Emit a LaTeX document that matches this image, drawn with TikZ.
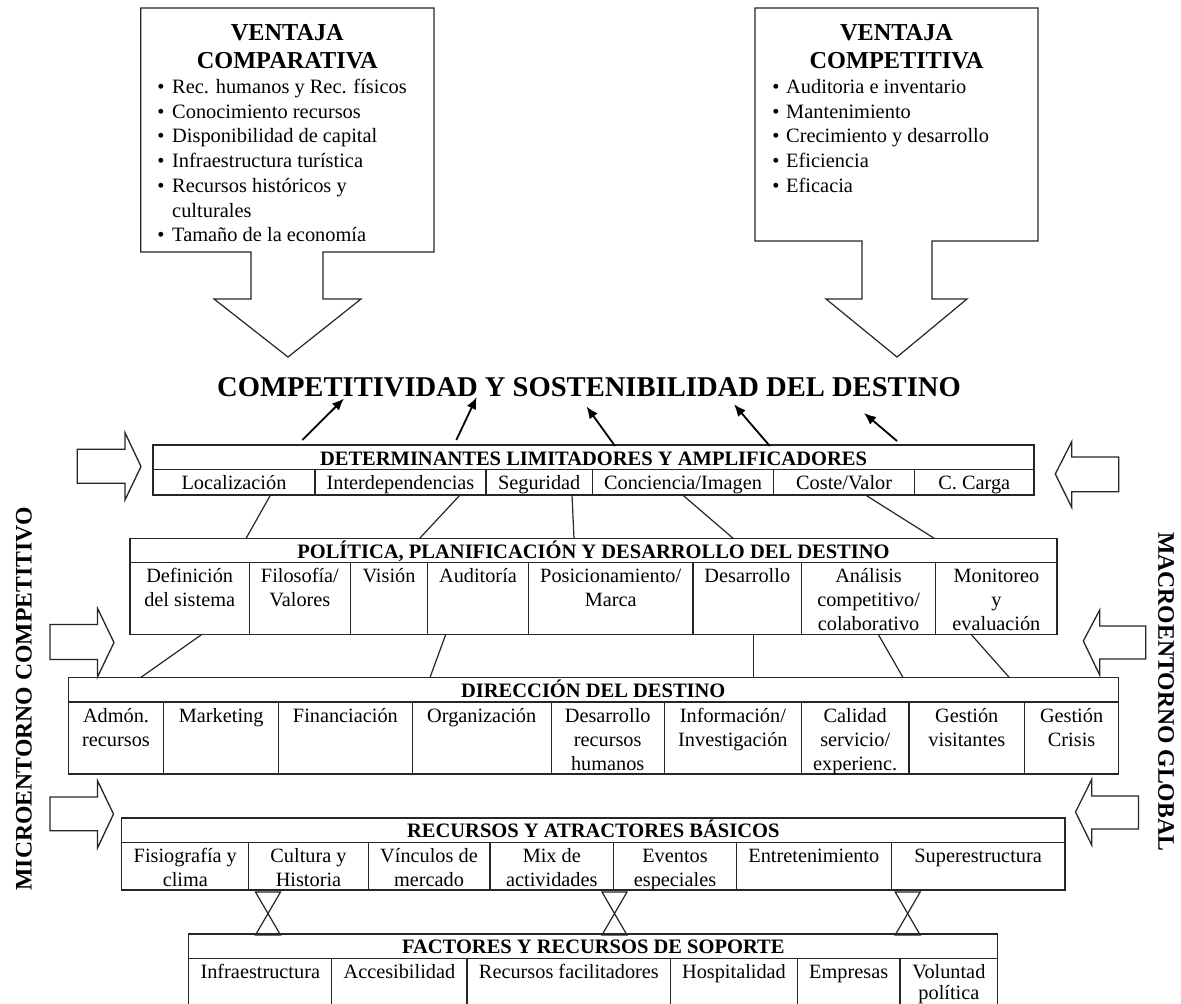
\documentclass[tikz,border=0pt]{standalone}
\usepackage{fontspec}
\setmainfont{Liberation Serif}
\usetikzlibrary{arrows.meta}
\tikzset{
  ln/.style={line width=1.2pt, draw=black!85},
  boxst/.style={draw=black!85, line width=1.2pt, inner sep=0pt, rectangle},
  hdr/.style={font=\bfseries\fontsize{20.5}{24}\selectfont, anchor=base, inner sep=0pt},
  celltx/.style={font=\fontsize{20.3}{24}\selectfont, anchor=north, align=center, inner sep=0pt},
  vtitle/.style={font=\bfseries\fontsize{24.3}{29}\selectfont, anchor=base, inner sep=0pt},
  bultx/.style={font=\fontsize{20.4}{24.75}\selectfont, anchor=base west, inner sep=0pt},
  bulmk/.style={font=\fontsize{20.4}{24.75}\selectfont, anchor=base, inner sep=0pt},
  maintitle/.style={font=\bfseries\fontsize{28.6}{34}\selectfont, anchor=base, inner sep=0pt},
  sidetx/.style={font=\bfseries\fontsize{23.7}{28}\selectfont, inner sep=0pt},
  upar/.style={line width=1.8pt, draw=black, -{Latex[length=12pt,width=10pt]}},
  blk/.style={draw=black!85, line width=1.3pt, fill=white, line join=miter},
}
\newcommand\mybox[5]{\node[boxst, minimum width={#4-#2}, minimum height={#5-#3}] (#1) at ({(#2+#4)/2},{(#3+#5)/2}) {};}
\newcommand\celltext[4]{\node[celltx] (#1) at (#2,{#3+3.2}) {\strut #4};}
\begin{document}
\begin{tikzpicture}[x=1pt,y=-1pt]
\useasboundingbox[fill=white] (0,0) rectangle (1181,1004);

% ---------- top boxes with block arrows ----------
\draw[ln, line join=miter] (140.7,8) -- (434,8) -- (434,252) -- (323,252) -- (323,299) -- (361,299) -- (288,357) -- (214,299) -- (251,299) -- (251,252) -- (140.7,252) -- cycle;
\node[vtitle] (vc1) at (287.3,40) {VENTAJA};
\node[vtitle] (vc2) at (287.3,68.3) {COMPARATIVA};
\node[bulmk] (bl1) at (161,93.3) {•};
\node[bultx] (tl1) at (172,93.3) {Rec. humanos y Rec. físicos};
\node[bulmk] (bl2) at (161,118.05) {•};
\node[bultx] (tl2) at (172,118.05) {Conocimiento recursos};
\node[bulmk] (bl3) at (161,142.8) {•};
\node[bultx] (tl3) at (172,142.8) {Disponibilidad de capital};
\node[bulmk] (bl4) at (161,167.55) {•};
\node[bultx] (tl4) at (172,167.55) {Infraestructura turística};
\node[bulmk] (bl5) at (161,192.3) {•};
\node[bultx] (tl5) at (172,192.3) {Recursos históricos y};
\node[bultx] (tl5b) at (172,217.05) {culturales};
\node[bulmk] (bl6) at (161,241.8) {•};
\node[bultx] (tl6) at (172,241.8) {Tamaño de la economía};

\draw[ln, line join=miter] (755,8) -- (1038,8) -- (1038,241) -- (932,241) -- (932,299) -- (967,299) -- (897,357) -- (826,299) -- (862,299) -- (862,241) -- (755,241) -- cycle;
\node[vtitle] (vk1) at (896.5,40) {VENTAJA};
\node[vtitle] (vk2) at (896.5,68.3) {COMPETITIVA};
\node[bulmk] (br1) at (776,93.3) {•};
\node[bultx] (tr1) at (786,93.3) {Auditoria e inventario};
\node[bulmk] (br2) at (776,118.05) {•};
\node[bultx] (tr2) at (786,118.05) {Mantenimiento};
\node[bulmk] (br3) at (776,142.8) {•};
\node[bultx] (tr3) at (786,142.8) {Crecimiento y desarrollo};
\node[bulmk] (br4) at (776,167.55) {•};
\node[bultx] (tr4) at (786,167.55) {Eficiencia};
\node[bulmk] (br5) at (776,192.3) {•};
\node[bultx] (tr5) at (786,192.3) {Eficacia};

% ---------- main title ----------
\node[maintitle] (title) at (589,396.7) {COMPETITIVIDAD Y SOSTENIBILIDAD DEL DESTINO};

% ---------- side texts ----------
\node[sidetx, rotate=90] (micro) at (24,699) {MICROENTORNO COMPETITIVO};
\node[sidetx, rotate=-90] (macro) at (1166,691.7) {MACROENTORNO GLOBAL};

% ---------- DETERMINANTES ----------
\mybox{det}{153}{445}{1034}{495}
\draw[ln] (153,469.5) -- (1034,469.5);
\foreach \xx in {315,486,592.3,773.6,914.6} \draw[ln] (\xx,469.5) -- (\xx,495);
\node[hdr] (deth) at (593.5,465) {DETERMINANTES LIMITADORES Y AMPLIFICADORES};
\celltext{d1}{234}{469.5}{Localización}
\celltext{d2}{400.5}{469.5}{Interdependencias}
\celltext{d3}{539.2}{469.5}{Seguridad}
\celltext{d4}{683}{469.5}{Conciencia/Imagen}
\celltext{d5}{844.1}{469.5}{Coste/Valor}
\celltext{d6}{974.3}{469.5}{C. Carga}

% ---------- POLITICA ----------
\mybox{pol}{130}{538.5}{1057}{634.3}
\draw[ln] (130,562.5) -- (1057,562.5);
\foreach \xx in {249.4,350.4,427.6,528.3,693,801.5,935.7} \draw[ln] (\xx,562.5) -- (\xx,634.3);
\node[hdr] (polh) at (593.5,558) {POLÍTICA, PLANIFICACIÓN Y DESARROLLO DEL DESTINO};
\celltext{p1}{189.7}{562.5}{Definición\\del sistema}
\celltext{p2}{299.9}{562.5}{Filosofía/\\Valores}
\celltext{p3}{389}{562.5}{Visión}
\celltext{p4}{478}{562.5}{Auditoría}
\celltext{p5}{610.7}{562.5}{Posicionamiento/\\Marca}
\celltext{p6}{747.3}{562.5}{Desarrollo}
\celltext{p7}{868.6}{562.5}{Análisis\\competitivo/\\colaborativo}
\celltext{p8}{996.4}{562.5}{Monitoreo\\y\\evaluación}

% ---------- DIRECCION ----------
\mybox{dir}{68.2}{677.5}{1118.5}{774}
\draw[ln] (68.2,702) -- (1118.5,702);
\foreach \xx in {163.8,278.6,412.2,551.1,664.3,801.5,908.9,1024.6} \draw[ln] (\xx,702) -- (\xx,774);
\node[hdr] (dirh) at (593.3,697.5) {DIRECCIÓN DEL DESTINO};
\celltext{r1}{116}{702}{Admón.\\recursos}
\celltext{r2}{221.2}{702}{Marketing}
\celltext{r3}{345.4}{702}{Financiación}
\celltext{r4}{481.7}{702}{Organización}
\celltext{r5}{607.7}{702}{Desarrollo\\recursos\\humanos}
\celltext{r6}{732.9}{702}{Información/\\Investigación}
\celltext{r7}{855.2}{702}{Calidad\\servicio/\\experienc.}
\celltext{r8}{966.8}{702}{Gestión\\visitantes}
\celltext{r9}{1071.6}{702}{Gestión\\Crisis}

% ---------- RECURSOS ----------
\mybox{rec}{121.7}{818}{1065}{890}
\draw[ln] (121.7,842.3) -- (1065,842.3);
\foreach \xx in {248.8,368.2,489.9,613.7,736.4,891.2} \draw[ln] (\xx,842.3) -- (\xx,890);
\node[hdr] (rech) at (593.3,837.3) {RECURSOS Y ATRACTORES BÁSICOS};
\celltext{c1}{185.3}{842.3}{Fisiografía y\\clima}
\celltext{c2}{308.5}{842.3}{Cultura y\\Historia}
\celltext{c3}{429}{842.3}{Vínculos de\\mercado}
\celltext{c4}{551.8}{842.3}{Mix de\\actividades}
\celltext{c5}{675}{842.3}{Eventos\\especiales}
\celltext{c6}{813.8}{842.3}{Entretenimiento}
\celltext{c7}{978.1}{842.3}{Superestructura}

% ---------- FACTORES (cut at page bottom) ----------
\draw[ln] (188.7,1015) -- (188.7,934) -- (997.8,934) -- (997.8,1015);
\coordinate (fact) at (593.3,934);
\draw[ln] (188.7,958.3) -- (997.8,958.3);
\foreach \xx in {331.8,466.9,670.8,797.3,900} \draw[ln] (\xx,958.3) -- (\xx,1015);
\node[hdr] (facth) at (593.3,953.5) {FACTORES Y RECURSOS DE SOPORTE};
\celltext{f1}{260.3}{958.3}{Infraestructura}
\celltext{f2}{399.4}{958.3}{Accesibilidad}
\celltext{f3}{568.9}{958.3}{Recursos facilitadores}
\celltext{f4}{734}{958.3}{Hospitalidad}
\celltext{f5}{848.7}{958.3}{Empresas}
\node[celltx, font=\fontsize{20.3}{20.6}\selectfont] (f6) at (948.9,963.9) {\strut Voluntad\\política};

% ---------- hourglasses ----------
\foreach \cx in {268,614.5,907.7}
  \draw[ln, line join=miter] (\cx-12.5,892) -- (\cx+12.5,892) -- (\cx-12.5,935) -- (\cx+12.5,935) -- cycle;

% ---------- arrows to the title ----------
\coordinate (a1s) at (302.4,440); \coordinate (a1e) at (344,398.5);
\coordinate (a2s) at (456.3,440); \coordinate (a2e) at (476.7,397);
\coordinate (a3s) at (615,446);   \coordinate (a3e) at (586.5,406.5);
\coordinate (a4s) at (769.8,446); \coordinate (a4e) at (734,404.3);
\coordinate (a5s) at (897,441);   \coordinate (a5e) at (864,413);
\draw[upar] (a1s) -- (a1e);
\draw[upar] (a2s) -- (a2e);
\draw[upar] (a3s) -- (a3e);
\draw[upar] (a4s) -- (a4e);
\draw[upar] (a5s) -- (a5e);

% ---------- connectors DET -> POL ----------
\coordinate (l1a) at (270.5,495); \coordinate (l1b) at (246,538.5);
\coordinate (l2a) at (460,495);   \coordinate (l2b) at (419.5,538.5);
\coordinate (l3a) at (572,495);   \coordinate (l3b) at (574,538.5);
\coordinate (l4a) at (682.7,495); \coordinate (l4b) at (733.3,538.5);
\coordinate (l5a) at (865.5,495); \coordinate (l5b) at (934.5,538.5);
\draw[ln] (l1a) -- (l1b);
\draw[ln] (l2a) -- (l2b);
\draw[ln] (l3a) -- (l3b);
\draw[ln] (l4a) -- (l4b);
\draw[ln] (l5a) -- (l5b);

% ---------- connectors POL -> DIR ----------
\coordinate (m1a) at (202,634.3);   \coordinate (m1b) at (140.7,677.5);
\coordinate (m2a) at (445.8,634.3); \coordinate (m2b) at (430,677.5);
\coordinate (m3a) at (753.6,634.3); \coordinate (m3b) at (753.6,677.5);
\coordinate (m4a) at (878.2,634.3); \coordinate (m4b) at (903,677.5);
\coordinate (m5a) at (971,634.3);   \coordinate (m5b) at (1009.3,677.5);
\draw[ln] (m1a) -- (m1b);
\draw[ln] (m2a) -- (m2b);
\draw[ln] (m3a) -- (m3b);
\draw[ln] (m4a) -- (m4b);
\draw[ln] (m5a) -- (m5b);

% ---------- side block arrows (left, pointing right) ----------
\draw[blk] (77.3,449.3) -- (125,449.3) -- (125,432.7) -- (141,466.5) -- (125,500) -- (125,483.3) -- (77.3,483.3) -- cycle;
\draw[blk] (50,624.5) -- (97.5,624.5) -- (97.5,608.3) -- (114,642.5) -- (97.5,677) -- (97.5,659.5) -- (50,659.5) -- cycle;
\draw[blk] (50,797) -- (97.5,797) -- (97.5,780.7) -- (113.5,814) -- (97.5,848) -- (97.5,830.7) -- (50,830.7) -- cycle;
% ---------- side block arrows (right, pointing left) ----------
\draw[blk] (1118.7,457) -- (1071.8,457) -- (1071.8,441.5) -- (1055.3,474) -- (1071.8,507.5) -- (1071.8,491.7) -- (1118.7,491.7) -- cycle;
\draw[blk] (1145.7,626) -- (1099.7,626) -- (1099.7,610) -- (1083.3,641) -- (1099.7,675) -- (1099.7,659) -- (1145.7,659) -- cycle;
\draw[blk] (1138.5,796) -- (1091.7,796) -- (1091.7,779.5) -- (1075.5,812) -- (1091.7,845) -- (1091.7,829) -- (1138.5,829) -- cycle;
\end{tikzpicture}
\end{document}
